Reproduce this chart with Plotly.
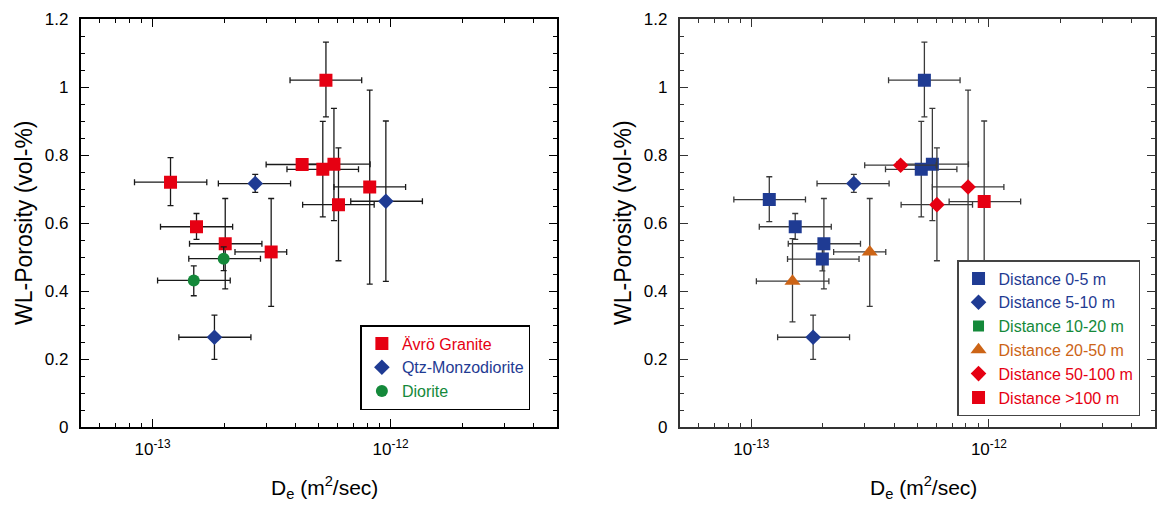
import math
import plotly.graph_objects as go

FONT = "Liberation Sans, Arial, Helvetica, sans-serif"
RED = "#e60012"
BLUE = "#1f3b93"
GREEN = "#14893a"
ORANGE = "#cc6416"

# ---------------- Left panel: grouped by rock type ----------------
granite_de     = [5.35e-13, 1.19e-13, 4.25e-13, 5.19e-13, 5.78e-13, 8.17e-13, 6.04e-13, 1.53e-13, 2.02e-13, 3.15e-13]
granite_de_lo  = [3.78e-13, 8.4e-14, 3.00e-13, 3.67e-13, 4.10e-13, 5.78e-13, 4.27e-13, 1.08e-13, 1.43e-13, 2.22e-13]
granite_de_hi  = [7.56e-13, 1.69e-13, 6.00e-13, 7.33e-13, 8.20e-13, 1.156e-12, 8.53e-13, 2.17e-13, 2.88e-13, 3.66e-13]
granite_phi    = [1.02, 0.72, 0.772, 0.758, 0.773, 0.706, 0.654, 0.589, 0.539, 0.515]
granite_phi_lo = [0.912, 0.651, 0.772, 0.618, 0.607, 0.420, 0.489, 0.552, 0.406, 0.355]
granite_phi_hi = [1.132, 0.792, 0.772, 0.899, 0.937, 0.991, 0.821, 0.628, 0.672, 0.672]

qmd_de     = [2.70e-13, 9.55e-13, 1.82e-13]
qmd_de_lo  = [1.89e-13, 6.80e-13, 1.29e-13]
qmd_de_hi  = [3.80e-13, 1.36e-12, 2.59e-13]
qmd_phi    = [0.716, 0.664, 0.264]
qmd_phi_lo = [0.690, 0.4285, 0.199]
qmd_phi_hi = [0.743, 0.900, 0.329]

dio_de     = [1.99e-13, 1.49e-13]
dio_de_lo  = [1.42e-13, 1.05e-13]
dio_de_hi  = [2.84e-13, 2.12e-13]
dio_phi    = [0.495, 0.431]
dio_phi_lo = [0.460, 0.386]
dio_phi_hi = [0.530, 0.474]

# ---------------- Right panel: grouped by distance ----------------
d0_de     = [5.35e-13, 1.19e-13, 5.19e-13, 5.78e-13, 1.53e-13, 2.02e-13, 1.99e-13]
d0_de_lo  = [3.78e-13, 8.44e-14, 3.67e-13, 4.10e-13, 1.08e-13, 1.43e-13, 1.42e-13]
d0_de_hi  = [7.56e-13, 1.69e-13, 7.33e-13, 8.20e-13, 2.17e-13, 2.88e-13, 2.84e-13]
d0_phi    = [1.02, 0.669, 0.758, 0.773, 0.589, 0.539, 0.494]
d0_phi_lo = [0.912, 0.604, 0.618, 0.607, 0.552, 0.406, 0.459]
d0_phi_hi = [1.132, 0.736, 0.899, 0.937, 0.628, 0.672, 0.530]

d5_de     = [2.70e-13, 1.82e-13]
d5_de_lo  = [1.89e-13, 1.29e-13]
d5_de_hi  = [3.80e-13, 2.59e-13]
d5_phi    = [0.716, 0.264]
d5_phi_lo = [0.690, 0.199]
d5_phi_hi = [0.743, 0.329]

d10_de, d10_de_lo, d10_de_hi = [], [], []
d10_phi, d10_phi_lo, d10_phi_hi = [], [], []

d20_de     = [3.15e-13, 1.49e-13]
d20_de_lo  = [2.22e-13, 1.05e-13]
d20_de_hi  = [3.68e-13, 2.12e-13]
d20_phi    = [0.515, 0.429]
d20_phi_lo = [0.355, 0.309]
d20_phi_hi = [0.672, 0.554]

d50_de     = [4.25e-13, 8.17e-13, 6.04e-13]
d50_de_lo  = [3.00e-13, 5.78e-13, 4.27e-13]
d50_de_hi  = [6.00e-13, 1.156e-12, 8.53e-13]
d50_phi    = [0.770, 0.706, 0.654]
d50_phi_lo = [0.770, 0.420, 0.489]
d50_phi_hi = [0.770, 0.991, 0.821]

d100_de     = [9.55e-13]
d100_de_lo  = [6.80e-13]
d100_de_hi  = [1.36e-12]
d100_phi    = [0.663]
d100_phi_lo = [0.4285]
d100_phi_hi = [0.900]

X_RANGE = [math.log10(5e-14), math.log10(5e-12)]
X_TICKS = [1e-13, 1e-12]
X_TICKTEXT = ["10<sup>-13</sup>", "10<sup>-12</sup>"]


def series(label, color, symbol, size, de, de_lo, de_hi, phi, phi_lo, phi_hi,
           xa, ya, legend, barcolor):
    if not de:
        de, phi = [None], [None]
        ex, ey = {}, {}
    else:
        ex = dict(type="data", symmetric=False,
                  array=[h - v for v, h in zip(de, de_hi)],
                  arrayminus=[v - l for v, l in zip(de, de_lo)],
                  color=barcolor, thickness=1.3, width=3)
        ey = dict(type="data", symmetric=False,
                  array=[h - v for v, h in zip(phi, phi_hi)],
                  arrayminus=[v - l for v, l in zip(phi, phi_lo)],
                  color=barcolor, thickness=1.3, width=3)
    return go.Scatter(
        x=de, y=phi, mode="markers", xaxis=xa, yaxis=ya, legend=legend,
        name=f'<span style="color:{color}">{label}</span>',
        marker=dict(symbol=symbol, size=size, color=color, line=dict(width=0)),
        error_x=ex, error_y=ey, hoverinfo="x+y",
    )


LBAR = "#1a1a1a"
RBAR = "#3a3a3a"

traces = [
    series("Ävrö Granite", RED, "square", 13, granite_de, granite_de_lo, granite_de_hi,
           granite_phi, granite_phi_lo, granite_phi_hi, "x", "y", "legend", LBAR),
    series("Qtz-Monzodiorite", BLUE, "diamond", 12, qmd_de, qmd_de_lo, qmd_de_hi,
           qmd_phi, qmd_phi_lo, qmd_phi_hi, "x", "y", "legend", LBAR),
    series("Diorite", GREEN, "circle", 12, dio_de, dio_de_lo, dio_de_hi,
           dio_phi, dio_phi_lo, dio_phi_hi, "x", "y", "legend", LBAR),
    series("Distance 0-5 m", BLUE, "square", 13, d0_de, d0_de_lo, d0_de_hi,
           d0_phi, d0_phi_lo, d0_phi_hi, "x2", "y2", "legend2", RBAR),
    series("Distance 5-10 m", BLUE, "diamond", 12, d5_de, d5_de_lo, d5_de_hi,
           d5_phi, d5_phi_lo, d5_phi_hi, "x2", "y2", "legend2", RBAR),
    series("Distance 10-20 m", GREEN, "square", 11, d10_de, d10_de_lo, d10_de_hi,
           d10_phi, d10_phi_lo, d10_phi_hi, "x2", "y2", "legend2", RBAR),
    series("Distance 20-50 m", ORANGE, "triangle-up", 14, d20_de, d20_de_lo, d20_de_hi,
           d20_phi, d20_phi_lo, d20_phi_hi, "x2", "y2", "legend2", RBAR),
    series("Distance 50-100 m", RED, "diamond", 12, d50_de, d50_de_lo, d50_de_hi,
           d50_phi, d50_phi_lo, d50_phi_hi, "x2", "y2", "legend2", RBAR),
    series("Distance >100 m", RED, "square", 13, d100_de, d100_de_lo, d100_de_hi,
           d100_phi, d100_phi_lo, d100_phi_hi, "x2", "y2", "legend2", RBAR),
]

W, H = 1157, 511
ML, MR, MT, MB = 0, 0, 19, 84
PH = H - MT - MB


def xaxis(domain, anchor, col):
    return dict(
        domain=domain, anchor=anchor, type="log", range=X_RANGE,
        tickmode="array", tickvals=X_TICKS, ticktext=X_TICKTEXT,
        ticks="inside", ticklen=8, tickwidth=1.3, tickcolor=col,
        showline=True, linewidth=2, linecolor=col, mirror="ticks",
        showgrid=False, zeroline=False, ticklabelstandoff=6,
        tickfont=dict(family=FONT, size=17, color="black"),
        minor=dict(dtick="D1", ticks="inside", ticklen=4, tickwidth=1, tickcolor=col, showgrid=False),
    )


def yaxis(anchor, col):
    return dict(
        domain=[0, 1], anchor=anchor, range=[0, 1.2], dtick=0.2, tick0=0,
        ticks="inside", ticklen=8, tickwidth=1.3, tickcolor=col,
        showline=True, linewidth=2, linecolor=col, mirror="ticks",
        showgrid=False, zeroline=False, ticklabelstandoff=7,
        tickfont=dict(family=FONT, size=17, color="black"),
        minor=dict(dtick=0.05, ticks="inside", ticklen=4, tickwidth=1, tickcolor=col, showgrid=False),
    )


def px_x(p):
    return (p - ML) / (W - ML - MR)


def px_y(p):
    return (H - MB - p) / PH


LX0, LX1 = 81, 558
RX0, RX1 = 681, 1157

legend_common = dict(
    bgcolor="white", borderwidth=1.5, font=dict(family=FONT, size=16),
    tracegroupgap=0, itemclick=False, itemdoubleclick=False,
)

x_title = "D<sub>e</sub> (m<sup>2</sup>/sec)"
y_title = "WL-Porosity (vol-%)"

annotations = []
for x0, x1 in [(LX0, LX1), (RX0, RX1)]:
    annotations.append(dict(
        text=x_title, xref="paper", yref="paper",
        x=px_x((x0 + x1) / 2 + 6), y=px_y(488), xanchor="center", yanchor="middle",
        showarrow=False, font=dict(family=FONT, size=21, color="black"),
    ))
    annotations.append(dict(
        text=y_title, xref="paper", yref="paper", textangle=-90,
        x=px_x(x0 - 57), y=0.5, xanchor="center", yanchor="middle",
        showarrow=False, font=dict(family=FONT, size=23, color="black"),
    ))

layout = go.Layout(
    width=W, height=H, margin=dict(l=ML, r=MR, t=MT, b=MB),
    paper_bgcolor="white", plot_bgcolor="white",
    font=dict(family=FONT, size=16, color="black"),
    xaxis=xaxis([px_x(LX0), px_x(LX1)], "y", "black"),
    yaxis=yaxis("x", "black"),
    xaxis2=xaxis([px_x(RX0), px_x(RX1)], "y2", "#333333"),
    yaxis2=yaxis("x2", "#333333"),
    legend=dict(x=px_x(361), y=px_y(410), xanchor="left", yanchor="bottom",
                bordercolor="black", **legend_common),
    legend2=dict(x=px_x(1142), y=px_y(416), xanchor="right", yanchor="bottom",
                 bordercolor="#444444", **legend_common),
    annotations=annotations,
    showlegend=True,
)

fig = go.Figure(data=traces, layout=layout)
fig.write_html("out.html")
